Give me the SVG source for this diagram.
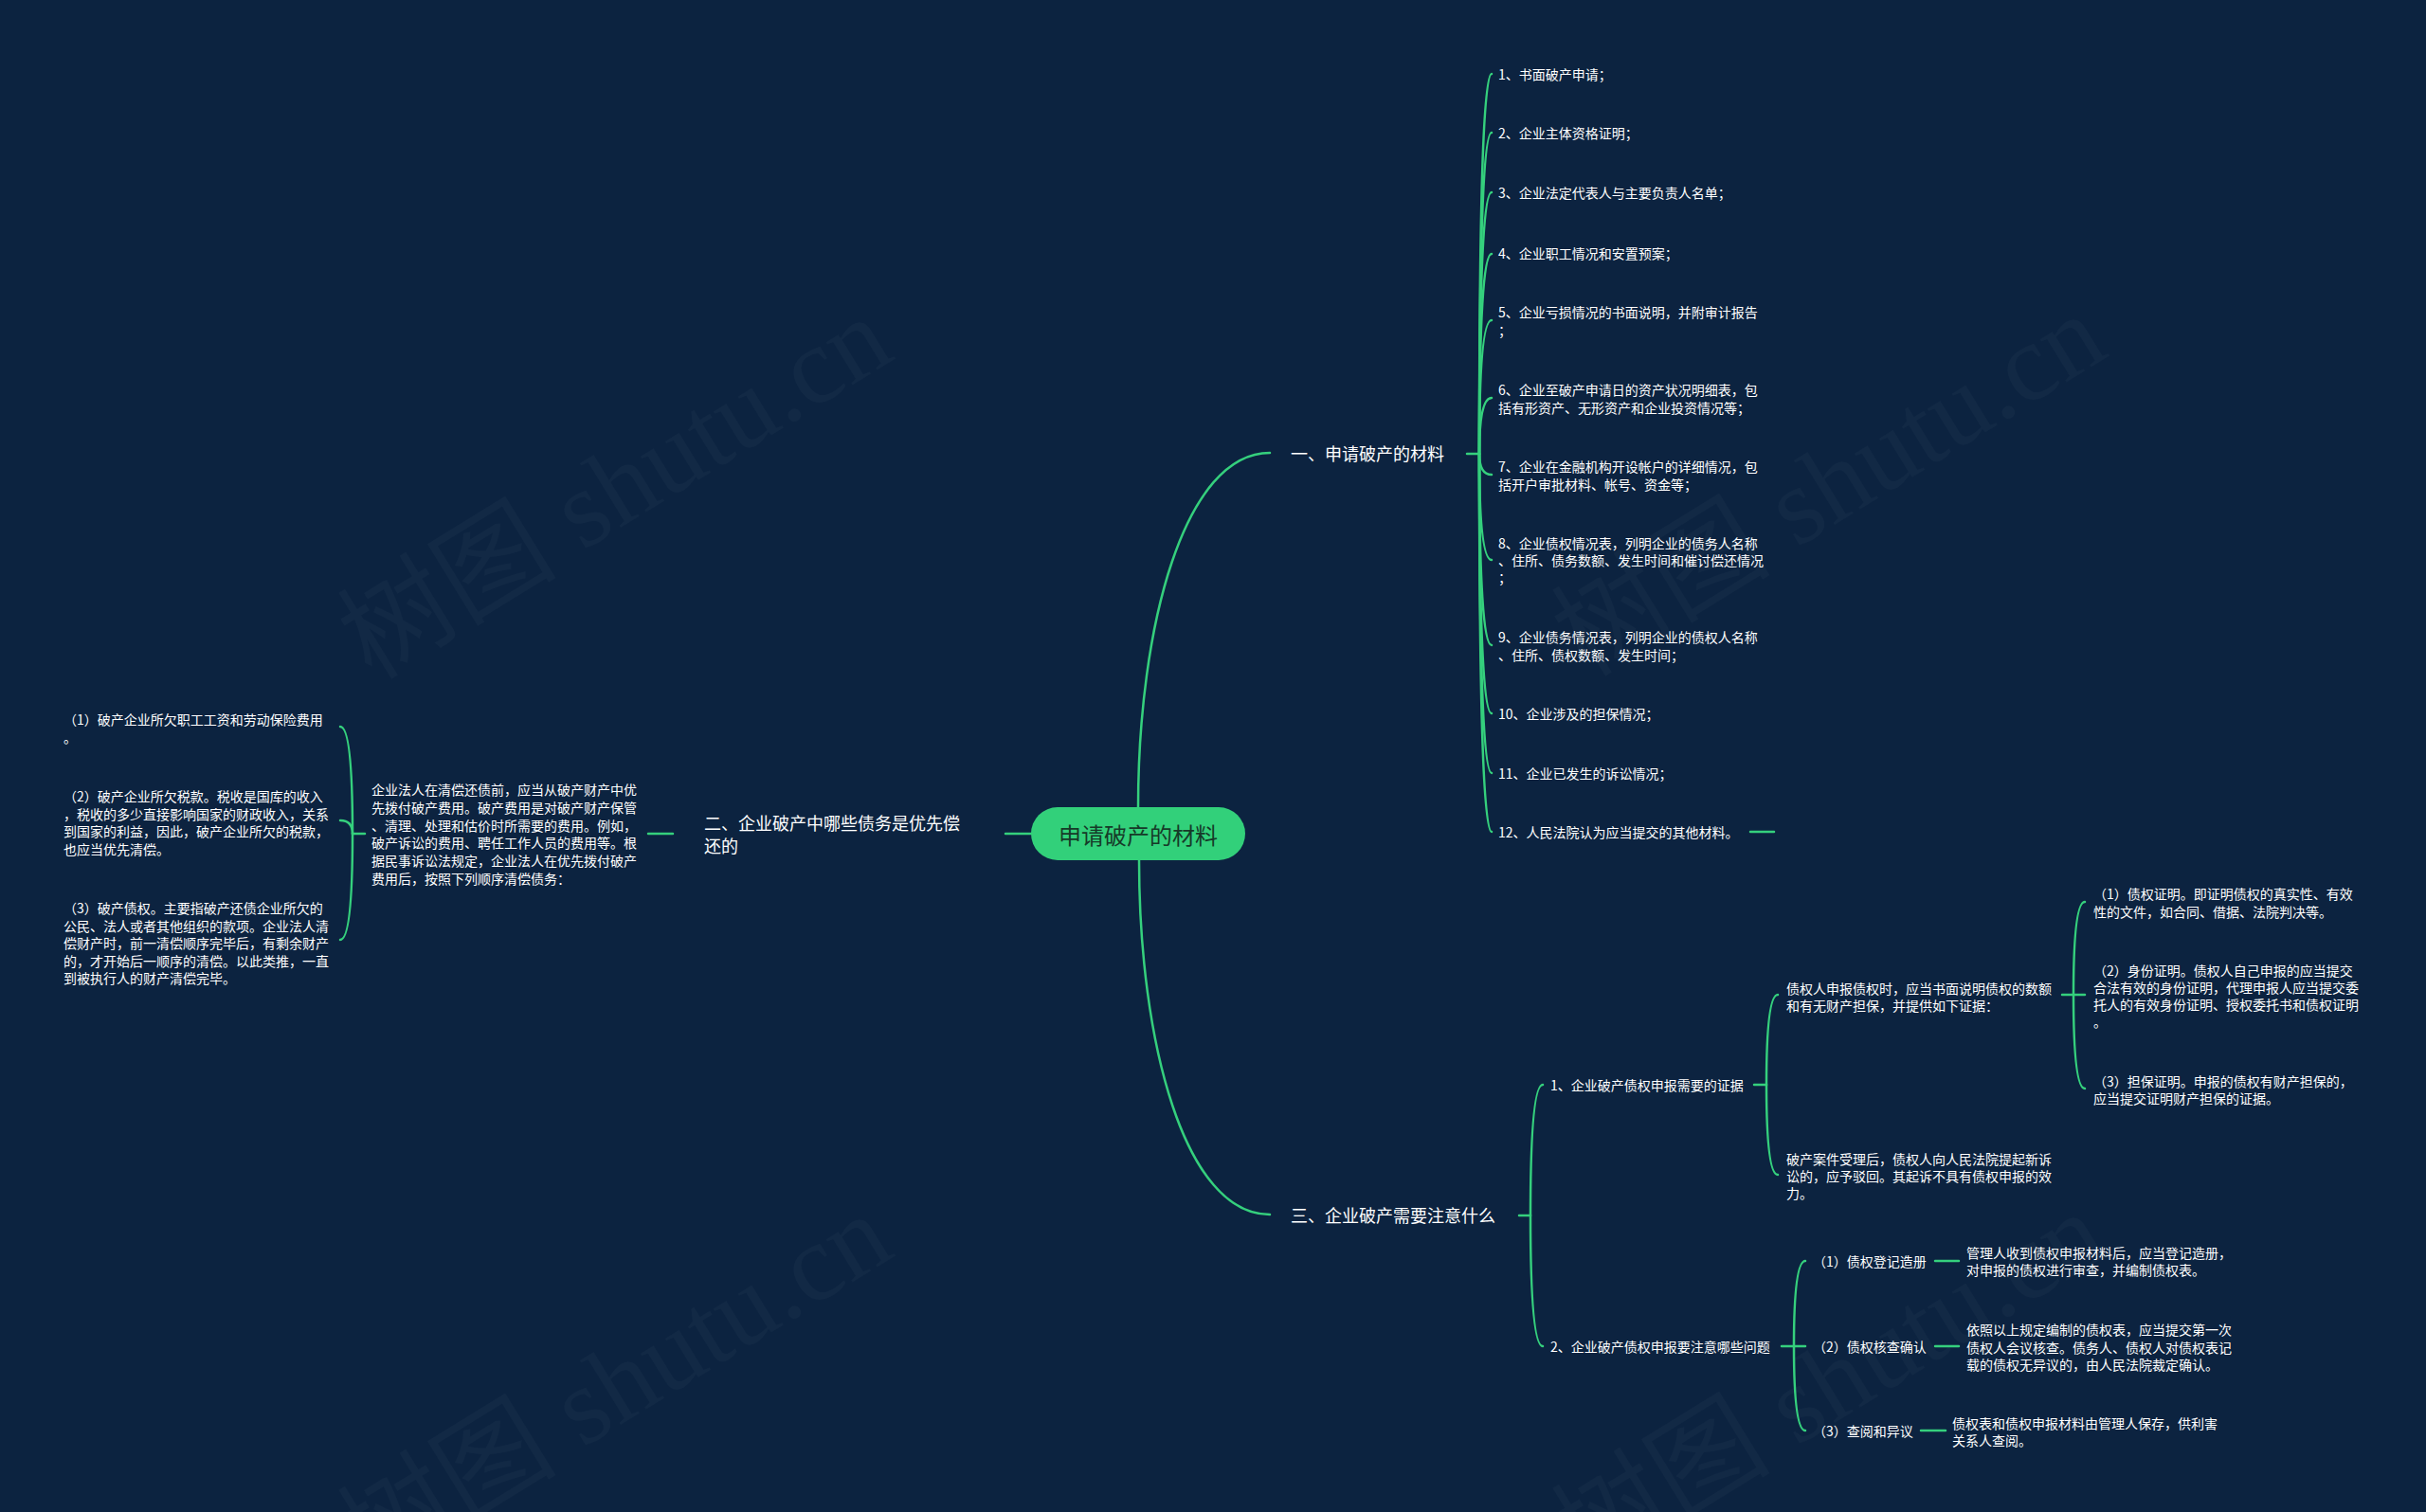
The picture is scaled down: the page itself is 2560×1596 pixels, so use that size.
<svg xmlns="http://www.w3.org/2000/svg" width="2560" height="1596" viewBox="0 0 2560 1596">
<style>
.ln{fill:none;stroke:#35d07d;stroke-width:2.5;stroke-linecap:round}
.t{font-family:"Noto Sans CJK SC","Noto Sans",sans-serif;fill:#ffffff;font-size:14px;dominant-baseline:central}
.tb{font-size:18px}
.tc{font-size:24px;fill:#163a28;text-anchor:middle}
.wm{font-family:"Liberation Serif","Noto Sans CJK SC",serif;font-size:116px;fill:#ffffff;fill-opacity:0.028;text-anchor:middle;dominant-baseline:central}
</style>
<rect x="0" y="0" width="2560" height="1596" fill="#0c2340"/>
<g id="watermark">
<text class="wm" transform="translate(649,515) rotate(-31.6)">树图 shutu.cn</text>
<text class="wm" transform="translate(1930,512) rotate(-31.6)">树图 shutu.cn</text>
<text class="wm" transform="translate(649,1462) rotate(-31.6)">树图 shutu.cn</text>
<text class="wm" transform="translate(1930,1460) rotate(-31.6)">树图 shutu.cn</text>
</g>
<g id="connectors">
<path class="ln" d="M1201,852 C1201,660 1250,478 1340,478"/>
<path class="ln" d="M1202,908 C1202,1100 1250,1282 1340,1282"/>
<path class="ln" d="M1088,880 H1061"/>
<path class="ln" d="M710,880 H684"/>
<path class="ln" d="M385,880 H372"/>
<path class="ln" d="M372,880 Q372,767 359,767"/>
<path class="ln" d="M372,880 Q372,866 359,866"/>
<path class="ln" d="M372,880 Q372,992 359,992"/>
<path class="ln" d="M1548,479 H1561"/>
<path class="ln" d="M1561,479 Q1561,78 1574,78"/>
<path class="ln" d="M1561,479 Q1561,140 1574,140"/>
<path class="ln" d="M1561,479 Q1561,203 1574,203"/>
<path class="ln" d="M1561,479 Q1561,268 1574,268"/>
<path class="ln" d="M1561,479 Q1561,338 1574,338"/>
<path class="ln" d="M1561,479 Q1561,420 1574,420"/>
<path class="ln" d="M1561,479 Q1561,501 1574,501"/>
<path class="ln" d="M1561,479 Q1561,591 1574,591"/>
<path class="ln" d="M1561,479 Q1561,681 1574,681"/>
<path class="ln" d="M1561,479 Q1561,753 1574,753"/>
<path class="ln" d="M1561,479 Q1561,816 1574,816"/>
<path class="ln" d="M1561,479 Q1561,878 1574,878"/>
<path class="ln" d="M1847,878 H1872"/>
<path class="ln" d="M1603,1283 H1615"/>
<path class="ln" d="M1615,1283 Q1615,1145 1628,1145"/>
<path class="ln" d="M1615,1283 Q1615,1421 1628,1421"/>
<path class="ln" d="M1851,1145 H1864"/>
<path class="ln" d="M1864,1145 Q1864,1050 1876,1050"/>
<path class="ln" d="M1864,1145 Q1864,1240 1876,1240"/>
<path class="ln" d="M2176,1050 H2188"/>
<path class="ln" d="M2188,1050 Q2188,952 2200,952"/>
<path class="ln" d="M2188,1050 H2200"/>
<path class="ln" d="M2188,1050 Q2188,1149 2200,1149"/>
<path class="ln" d="M1880,1421 H1893"/>
<path class="ln" d="M1893,1421 Q1893,1331 1905,1331"/>
<path class="ln" d="M1893,1421 H1905"/>
<path class="ln" d="M1893,1421 Q1893,1510 1905,1510"/>
<path class="ln" d="M2042,1331 H2067"/>
<path class="ln" d="M2042,1421 H2067"/>
<path class="ln" d="M2027,1510 H2053"/>
</g>
<g id="root">
<rect x="1088" y="852" width="226" height="56" rx="28" ry="28" fill="#32d07a"/>
<text class="t tc" x="1201" y="880">申请破产的材料</text>
</g>
<g id="b1"><text class="t tb" x="1362" y="478">一、申请破产的材料</text></g>
<g id="b1-1"><text class="t" x="1581" y="78">1、书面破产申请；</text></g>
<g id="b1-2"><text class="t" x="1581" y="140">2、企业主体资格证明；</text></g>
<g id="b1-3"><text class="t" x="1581" y="203">3、企业法定代表人与主要负责人名单；</text></g>
<g id="b1-4"><text class="t" x="1581" y="267">4、企业职工情况和安置预案；</text></g>
<g id="b1-5"><text class="t"><tspan x="1581" y="329">5、企业亏损情况的书面说明，并附审计报告</tspan><tspan x="1581" y="348">；</tspan></text></g>
<g id="b1-6"><text class="t"><tspan x="1581" y="411">6、企业至破产申请日的资产状况明细表，包</tspan><tspan x="1581" y="430">括有形资产、无形资产和企业投资情况等；</tspan></text></g>
<g id="b1-7"><text class="t"><tspan x="1581" y="492">7、企业在金融机构开设帐户的详细情况，包</tspan><tspan x="1581" y="511">括开户审批材料、帐号、资金等；</tspan></text></g>
<g id="b1-8"><text class="t"><tspan x="1581" y="573">8、企业债权情况表，列明企业的债务人名称</tspan><tspan x="1581" y="591">、住所、债务数额、发生时间和催讨偿还情况</tspan><tspan x="1581" y="609">；</tspan></text></g>
<g id="b1-9"><text class="t"><tspan x="1581" y="672">9、企业债务情况表，列明企业的债权人名称</tspan><tspan x="1581" y="691">、住所、债权数额、发生时间；</tspan></text></g>
<g id="b1-10"><text class="t" x="1581" y="753">10、企业涉及的担保情况；</text></g>
<g id="b1-11"><text class="t" x="1581" y="816">11、企业已发生的诉讼情况；</text></g>
<g id="b1-12"><text class="t" x="1581" y="878">12、人民法院认为应当提交的其他材料。</text></g>
<g id="b2"><text class="t tb"><tspan x="743" y="868">二、企业破产中哪些债务是优先偿</tspan><tspan x="743" y="892">还的</tspan></text></g>
<g id="b2-1"><text class="t"><tspan x="392" y="833">企业法人在清偿还债前，应当从破产财产中优</tspan><tspan x="392" y="851.8">先拨付破产费用。破产费用是对破产财产保管</tspan><tspan x="392" y="870.6">、清理、处理和估价时所需要的费用。例如，</tspan><tspan x="392" y="889.4">破产诉讼的费用、聘任工作人员的费用等。根</tspan><tspan x="392" y="908.2">据民事诉讼法规定，企业法人在优先拨付破产</tspan><tspan x="392" y="927">费用后，按照下列顺序清偿债务：</tspan></text></g>
<g id="b2-1-1"><text class="t"><tspan x="67" y="759">（1）破产企业所欠职工工资和劳动保险费用</tspan><tspan x="67" y="778">。</tspan></text></g>
<g id="b2-1-2"><text class="t"><tspan x="67" y="840">（2）破产企业所欠税款。税收是国库的收入</tspan><tspan x="67" y="858.5">，税收的多少直接影响国家的财政收入，关系</tspan><tspan x="67" y="877">到国家的利益，因此，破产企业所欠的税款，</tspan><tspan x="67" y="895.5">也应当优先清偿。</tspan></text></g>
<g id="b2-1-3"><text class="t"><tspan x="67" y="958">（3）破产债权。主要指破产还债企业所欠的</tspan><tspan x="67" y="976.5">公民、法人或者其他组织的款项。企业法人清</tspan><tspan x="67" y="995">偿财产时，前一清偿顺序完毕后，有剩余财产</tspan><tspan x="67" y="1013.5">的，才开始后一顺序的清偿。以此类推，一直</tspan><tspan x="67" y="1032">到被执行人的财产清偿完毕。</tspan></text></g>
<g id="b3"><text class="t tb" x="1362" y="1282">三、企业破产需要注意什么</text></g>
<g id="b3-1"><text class="t" x="1636" y="1145">1、企业破产债权申报需要的证据</text></g>
<g id="b3-1-1"><text class="t"><tspan x="1885" y="1043">债权人申报债权时，应当书面说明债权的数额</tspan><tspan x="1885" y="1061">和有无财产担保，并提供如下证据：</tspan></text></g>
<g id="b3-1-1-1"><text class="t"><tspan x="2209" y="943">（1）债权证明。即证明债权的真实性、有效</tspan><tspan x="2209" y="962">性的文件，如合同、借据、法院判决等。</tspan></text></g>
<g id="b3-1-1-2"><text class="t"><tspan x="2209" y="1024">（2）身份证明。债权人自己申报的应当提交</tspan><tspan x="2209" y="1042">合法有效的身份证明，代理申报人应当提交委</tspan><tspan x="2209" y="1060">托人的有效身份证明、授权委托书和债权证明</tspan><tspan x="2209" y="1078">。</tspan></text></g>
<g id="b3-1-1-3"><text class="t"><tspan x="2209" y="1141">（3）担保证明。申报的债权有财产担保的，</tspan><tspan x="2209" y="1159">应当提交证明财产担保的证据。</tspan></text></g>
<g id="b3-1-2"><text class="t"><tspan x="1885" y="1223">破产案件受理后，债权人向人民法院提起新诉</tspan><tspan x="1885" y="1241">讼的，应予驳回。其起诉不具有债权申报的效</tspan><tspan x="1885" y="1259">力。</tspan></text></g>
<g id="b3-2"><text class="t" x="1636" y="1421">2、企业破产债权申报要注意哪些问题</text></g>
<g id="b3-2-1"><text class="t" x="1913" y="1331">（1）债权登记造册</text></g>
<g id="b3-2-1-1"><text class="t"><tspan x="2075" y="1322">管理人收到债权申报材料后，应当登记造册，</tspan><tspan x="2075" y="1340">对申报的债权进行审查，并编制债权表。</tspan></text></g>
<g id="b3-2-2"><text class="t" x="1913" y="1421">（2）债权核查确认</text></g>
<g id="b3-2-2-1"><text class="t"><tspan x="2075" y="1403">依照以上规定编制的债权表，应当提交第一次</tspan><tspan x="2075" y="1421.5">债权人会议核查。债务人、债权人对债权表记</tspan><tspan x="2075" y="1440">载的债权无异议的，由人民法院裁定确认。</tspan></text></g>
<g id="b3-2-3"><text class="t" x="1913" y="1510">（3）查阅和异议</text></g>
<g id="b3-2-3-1"><text class="t"><tspan x="2060" y="1502">债权表和债权申报材料由管理人保存，供利害</tspan><tspan x="2060" y="1520">关系人查阅。</tspan></text></g>
</svg>
